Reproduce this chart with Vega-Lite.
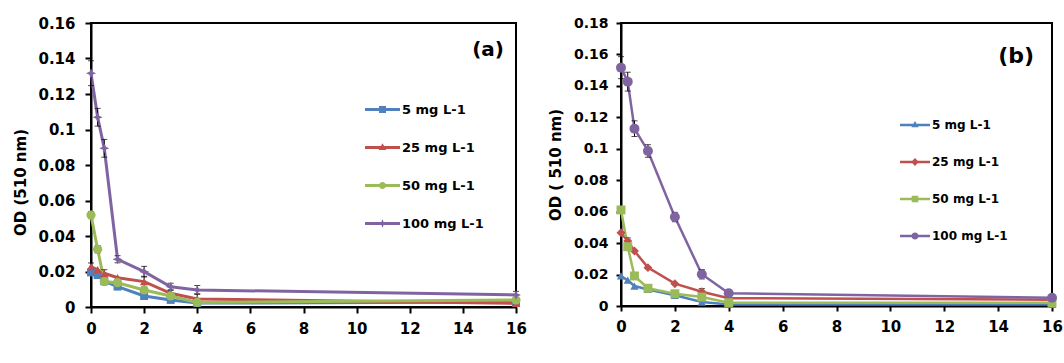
{
  "$schema": "https://vega.github.io/schema/vega-lite/v6.json",
  "padding": {"left": 12, "top": 15, "right": 5, "bottom": 5},
  "bounds": "flush",
  "spacing": 105,
  "data": {"values": [
    {"panel": "a", "conc": "5 mg L-1", "t": 0, "od": 0.0195, "err": 0},
    {"panel": "a", "conc": "5 mg L-1", "t": 0.25, "od": 0.018, "err": 0},
    {"panel": "a", "conc": "5 mg L-1", "t": 0.5, "od": 0.0145, "err": 0},
    {"panel": "a", "conc": "5 mg L-1", "t": 1, "od": 0.0115, "err": 0},
    {"panel": "a", "conc": "5 mg L-1", "t": 2, "od": 0.0062, "err": 0},
    {"panel": "a", "conc": "5 mg L-1", "t": 3, "od": 0.004, "err": 0},
    {"panel": "a", "conc": "5 mg L-1", "t": 4, "od": 0.0022, "err": 0},
    {"panel": "a", "conc": "5 mg L-1", "t": 16, "od": 0.0028, "err": 0},
    {"panel": "a", "conc": "25 mg L-1", "t": 0, "od": 0.0228, "err": 0.002},
    {"panel": "a", "conc": "25 mg L-1", "t": 0.25, "od": 0.021, "err": 0},
    {"panel": "a", "conc": "25 mg L-1", "t": 0.5, "od": 0.019, "err": 0.002},
    {"panel": "a", "conc": "25 mg L-1", "t": 1, "od": 0.0165, "err": 0},
    {"panel": "a", "conc": "25 mg L-1", "t": 2, "od": 0.0143, "err": 0.003},
    {"panel": "a", "conc": "25 mg L-1", "t": 3, "od": 0.0077, "err": 0.002},
    {"panel": "a", "conc": "25 mg L-1", "t": 4, "od": 0.0045, "err": 0.003},
    {"panel": "a", "conc": "25 mg L-1", "t": 16, "od": 0.002, "err": 0},
    {"panel": "a", "conc": "50 mg L-1", "t": 0, "od": 0.0518, "err": 0.002},
    {"panel": "a", "conc": "50 mg L-1", "t": 0.25, "od": 0.0325, "err": 0.002},
    {"panel": "a", "conc": "50 mg L-1", "t": 0.5, "od": 0.0143, "err": 0},
    {"panel": "a", "conc": "50 mg L-1", "t": 1, "od": 0.0137, "err": 0},
    {"panel": "a", "conc": "50 mg L-1", "t": 2, "od": 0.0096, "err": 0},
    {"panel": "a", "conc": "50 mg L-1", "t": 3, "od": 0.0062, "err": 0},
    {"panel": "a", "conc": "50 mg L-1", "t": 4, "od": 0.0026, "err": 0},
    {"panel": "a", "conc": "50 mg L-1", "t": 16, "od": 0.004, "err": 0},
    {"panel": "a", "conc": "100 mg L-1", "t": 0, "od": 0.1317, "err": 0.007},
    {"panel": "a", "conc": "100 mg L-1", "t": 0.25, "od": 0.1069, "err": 0.005},
    {"panel": "a", "conc": "100 mg L-1", "t": 0.5, "od": 0.0894, "err": 0.005},
    {"panel": "a", "conc": "100 mg L-1", "t": 1, "od": 0.0269, "err": 0.002},
    {"panel": "a", "conc": "100 mg L-1", "t": 2, "od": 0.0199, "err": 0.003},
    {"panel": "a", "conc": "100 mg L-1", "t": 3, "od": 0.0114, "err": 0.002},
    {"panel": "a", "conc": "100 mg L-1", "t": 4, "od": 0.0096, "err": 0.0025},
    {"panel": "a", "conc": "100 mg L-1", "t": 16, "od": 0.0068, "err": 0.002},
    {"panel": "b", "conc": "5 mg L-1", "t": 0, "od": 0.0191, "err": 0},
    {"panel": "b", "conc": "5 mg L-1", "t": 0.25, "od": 0.0164, "err": 0},
    {"panel": "b", "conc": "5 mg L-1", "t": 0.5, "od": 0.0127, "err": 0},
    {"panel": "b", "conc": "5 mg L-1", "t": 1, "od": 0.0105, "err": 0},
    {"panel": "b", "conc": "5 mg L-1", "t": 2, "od": 0.0068, "err": 0},
    {"panel": "b", "conc": "5 mg L-1", "t": 3, "od": 0.0025, "err": 0},
    {"panel": "b", "conc": "5 mg L-1", "t": 4, "od": 0.001, "err": 0},
    {"panel": "b", "conc": "5 mg L-1", "t": 16, "od": 0.001, "err": 0},
    {"panel": "b", "conc": "25 mg L-1", "t": 0, "od": 0.0466, "err": 0},
    {"panel": "b", "conc": "25 mg L-1", "t": 0.25, "od": 0.0413, "err": 0.002},
    {"panel": "b", "conc": "25 mg L-1", "t": 0.5, "od": 0.035, "err": 0},
    {"panel": "b", "conc": "25 mg L-1", "t": 1, "od": 0.0244, "err": 0},
    {"panel": "b", "conc": "25 mg L-1", "t": 2, "od": 0.0142, "err": 0},
    {"panel": "b", "conc": "25 mg L-1", "t": 3, "od": 0.0091, "err": 0.002},
    {"panel": "b", "conc": "25 mg L-1", "t": 4, "od": 0.005, "err": 0},
    {"panel": "b", "conc": "25 mg L-1", "t": 16, "od": 0.004, "err": 0},
    {"panel": "b", "conc": "50 mg L-1", "t": 0, "od": 0.0611, "err": 0},
    {"panel": "b", "conc": "50 mg L-1", "t": 0.25, "od": 0.0377, "err": 0},
    {"panel": "b", "conc": "50 mg L-1", "t": 0.5, "od": 0.0191, "err": 0},
    {"panel": "b", "conc": "50 mg L-1", "t": 1, "od": 0.0113, "err": 0},
    {"panel": "b", "conc": "50 mg L-1", "t": 2, "od": 0.0078, "err": 0},
    {"panel": "b", "conc": "50 mg L-1", "t": 3, "od": 0.0057, "err": 0},
    {"panel": "b", "conc": "50 mg L-1", "t": 4, "od": 0.0021, "err": 0},
    {"panel": "b", "conc": "50 mg L-1", "t": 16, "od": 0.002, "err": 0},
    {"panel": "b", "conc": "100 mg L-1", "t": 0, "od": 0.1516, "err": 0.007},
    {"panel": "b", "conc": "100 mg L-1", "t": 0.25, "od": 0.1427, "err": 0.006},
    {"panel": "b", "conc": "100 mg L-1", "t": 0.5, "od": 0.1128, "err": 0.005},
    {"panel": "b", "conc": "100 mg L-1", "t": 1, "od": 0.0986, "err": 0.004},
    {"panel": "b", "conc": "100 mg L-1", "t": 2, "od": 0.0566, "err": 0.003},
    {"panel": "b", "conc": "100 mg L-1", "t": 3, "od": 0.0202, "err": 0.003},
    {"panel": "b", "conc": "100 mg L-1", "t": 4, "od": 0.0081, "err": 0.002},
    {"panel": "b", "conc": "100 mg L-1", "t": 16, "od": 0.0053, "err": 0.002}
  ]},
  "hconcat": [
    {
      "width": 425,
      "height": 284,
      "title": {"text": "(a)", "anchor": "end", "orient": "top", "frame": "group", "offset": 0, "baseline": "alphabetic", "dx": -12, "dy": 60, "fontSize": 20, "font": "DejaVu Sans", "fontWeight": "bold", "color": "black"},
      "transform": [{"filter": "datum.panel === 'a'"}],
      "encoding": {
        "x": {"field": "t", "type": "quantitative", "scale": {"domain": [0, 16], "nice": false},
              "axis": {"values": [0, 2, 4, 6, 8, 10, 12, 14, 16], "title": "Time (hour)", "titleY": 326, "titleBaseline": "top", "labelPadding": 8}},
        "y": {"field": "od", "type": "quantitative", "scale": {"domain": [0, 0.16], "nice": false},
              "axis": {"values": [0, 0.02, 0.04, 0.06, 0.08, 0.1, 0.12, 0.14, 0.16], "format": ".2~f", "title": "OD (510 nm)", "titleX": -63, "titleY": 159, "labelPadding": 10}}
      },
      "layer": [
        {
          "transform": [{"filter": "datum.t < 0"}],
          "mark": {"type": "point", "filled": true, "opacity": 1},
          "encoding": {
            "color": {"field": "conc", "type": "nominal",
              "scale": {"domain": ["5 mg L-1", "25 mg L-1", "50 mg L-1", "100 mg L-1"], "range": ["#4F81BD", "#C0504D", "#9BBB59", "#8064A2"]},
              "legend": {"title": null, "orient": "none", "legendX": 274, "legendY": 69, "direction": "vertical", "symbolSize": 1225, "symbolStrokeWidth": 0, "symbolOpacity": 1, "rowPadding": 13, "labelOffset": 2, "labelFont": "DejaVu Sans", "labelFontWeight": "bold", "labelFontSize": 13, "labelColor": "black", "padding": 0}},
            "shape": {"field": "conc", "type": "nominal",
              "scale": {"domain": ["5 mg L-1", "25 mg L-1", "50 mg L-1", "100 mg L-1"], "range": [
                "M-1,-0.086H1V0.086H-1Z M-0.2,-0.2H0.2V0.2H-0.2Z",
                "M-1,-0.086H1V0.086H-1Z M0,-0.24L0.22,0.14H-0.22Z",
                "M-1,-0.086H1V0.086H-1Z M0.2,0A0.2,0.2 0 1,1 -0.2,0A0.2,0.2 0 1,1 0.2,0Z",
                "M-1,-0.086H1V0.086H-1Z M0,-0.24L0.07,-0.07L0.24,0L0.07,0.07L0,0.24L-0.07,0.07L-0.24,0L-0.07,-0.07Z"]},
              "legend": {"title": null, "orient": "none", "legendX": 274, "legendY": 69, "direction": "vertical", "symbolSize": 1225, "symbolStrokeWidth": 0, "symbolOpacity": 1, "rowPadding": 13, "labelOffset": 2, "labelFont": "DejaVu Sans", "labelFontWeight": "bold", "labelFontSize": 13, "labelColor": "black", "padding": 0}}
          }
        },
        {
          "mark": {"type": "line", "strokeWidth": 3},
          "encoding": {"color": {"field": "conc", "type": "nominal", "legend": null}}
        },
        {
          "transform": [{"filter": "datum.err > 0"}],
          "mark": {"type": "errorbar", "ticks": {"size": 6}, "color": "black", "thickness": 1},
          "encoding": {"yError": {"field": "err"}, "detail": {"field": "conc"}}
        },
        {
          "transform": [{"filter": "datum.conc === '5 mg L-1'"}],
          "mark": {"type": "point", "shape": "square", "filled": true, "opacity": 1, "size": 64},
          "encoding": {"color": {"field": "conc", "type": "nominal", "legend": null}}
        },
        {
          "transform": [{"filter": "datum.conc === '25 mg L-1'"}],
          "mark": {"type": "point", "shape": "triangle-up", "filled": true, "opacity": 1, "size": 70},
          "encoding": {"color": {"field": "conc", "type": "nominal", "legend": null}}
        },
        {
          "transform": [{"filter": "datum.conc === '50 mg L-1'"}],
          "mark": {"type": "point", "shape": "circle", "filled": true, "opacity": 1, "size": 85},
          "encoding": {"color": {"field": "conc", "type": "nominal", "legend": null}}
        },
        {
          "transform": [{"filter": "datum.conc === '100 mg L-1'"}],
          "mark": {"type": "point", "shape": "M0,-1L0.3,-0.3L1,0L0.3,0.3L0,1L-0.3,0.3L-1,0L-0.3,-0.3Z", "filled": true, "opacity": 1, "size": 100},
          "encoding": {"color": {"field": "conc", "type": "nominal", "legend": null}}
        }
      ]
    },
    {
      "width": 431,
      "height": 283,
      "title": {"text": "(b)", "anchor": "end", "orient": "top", "frame": "group", "offset": 0, "baseline": "alphabetic", "dx": -18, "dy": 69, "fontSize": 22, "font": "DejaVu Sans", "fontWeight": "bold", "color": "black"},
      "transform": [{"filter": "datum.panel === 'b'"}],
      "encoding": {
        "x": {"field": "t", "type": "quantitative", "scale": {"domain": [0, 16], "nice": false},
              "axis": {"values": [0, 2, 4, 6, 8, 10, 12, 14, 16], "title": "Time (hour)", "titleY": 328, "titleBaseline": "top", "titleFontSize": 14, "labelPadding": 8, "tickSize": 5}},
        "y": {"field": "od", "type": "quantitative", "scale": {"domain": [0, 0.18], "nice": false},
              "axis": {"values": [0, 0.02, 0.04, 0.06, 0.08, 0.1, 0.12, 0.14, 0.16, 0.18], "format": ".2~f", "title": "OD ( 510 nm)", "titleX": -58, "labelPadding": 8, "tickSize": 5, "labelFontSize": 14}}
      },
      "layer": [
        {
          "transform": [{"filter": "datum.t < 0"}],
          "mark": {"type": "point", "filled": true, "opacity": 1},
          "encoding": {
            "color": {"field": "conc", "type": "nominal",
              "scale": {"domain": ["5 mg L-1", "25 mg L-1", "50 mg L-1", "100 mg L-1"], "range": ["#4F81BD", "#C0504D", "#9BBB59", "#8064A2"]},
              "legend": {"title": null, "orient": "none", "legendX": 279, "legendY": 87, "direction": "vertical", "symbolSize": 900, "symbolStrokeWidth": 0, "symbolOpacity": 1, "rowPadding": 16, "labelOffset": 2, "labelFont": "DejaVu Sans", "labelFontWeight": "bold", "labelFontSize": 12, "labelColor": "black", "padding": 0}},
            "shape": {"field": "conc", "type": "nominal",
              "scale": {"domain": ["5 mg L-1", "25 mg L-1", "50 mg L-1", "100 mg L-1"], "range": [
                "M-1,-0.083H1V0.083H-1Z M0,-0.26L0.24,0.15H-0.24Z",
                "M-1,-0.083H1V0.083H-1Z M0,-0.26L0.26,0L0,0.26L-0.26,0Z",
                "M-1,-0.083H1V0.083H-1Z M-0.22,-0.22H0.22V0.22H-0.22Z",
                "M-1,-0.083H1V0.083H-1Z M0.24,0A0.24,0.24 0 1,1 -0.24,0A0.24,0.24 0 1,1 0.24,0Z"]},
              "legend": {"title": null, "orient": "none", "legendX": 279, "legendY": 87, "direction": "vertical", "symbolSize": 900, "symbolStrokeWidth": 0, "symbolOpacity": 1, "rowPadding": 16, "labelOffset": 2, "labelFont": "DejaVu Sans", "labelFontWeight": "bold", "labelFontSize": 12, "labelColor": "black", "padding": 0}}
          }
        },
        {
          "mark": {"type": "line", "strokeWidth": 2.5},
          "encoding": {"color": {"field": "conc", "type": "nominal", "legend": null}}
        },
        {
          "transform": [{"filter": "datum.err > 0"}],
          "mark": {"type": "errorbar", "ticks": {"size": 6}, "color": "black", "thickness": 1},
          "encoding": {"yError": {"field": "err"}, "detail": {"field": "conc"}}
        },
        {
          "transform": [{"filter": "datum.conc === '5 mg L-1'"}],
          "mark": {"type": "point", "shape": "triangle-up", "filled": true, "opacity": 1, "size": 70},
          "encoding": {"color": {"field": "conc", "type": "nominal", "legend": null}}
        },
        {
          "transform": [{"filter": "datum.conc === '25 mg L-1'"}],
          "mark": {"type": "point", "shape": "diamond", "filled": true, "opacity": 1, "size": 80},
          "encoding": {"color": {"field": "conc", "type": "nominal", "legend": null}}
        },
        {
          "transform": [{"filter": "datum.conc === '50 mg L-1'"}],
          "mark": {"type": "point", "shape": "square", "filled": true, "opacity": 1, "size": 80},
          "encoding": {"color": {"field": "conc", "type": "nominal", "legend": null}}
        },
        {
          "transform": [{"filter": "datum.conc === '100 mg L-1'"}],
          "mark": {"type": "point", "shape": "circle", "filled": true, "opacity": 1, "size": 100},
          "encoding": {"color": {"field": "conc", "type": "nominal", "legend": null}}
        }
      ]
    }
  ],
  "resolve": {
    "scale": {"color": "independent", "shape": "independent", "x": "independent", "y": "independent"},
    "legend": {"color": "independent", "shape": "independent"}
  },
  "config": {
    "font": "DejaVu Sans",
    "view": {"stroke": "black", "strokeWidth": 2},
    "axis": {"grid": false, "domainColor": "black", "domainWidth": 2, "tickColor": "black", "tickWidth": 2, "tickSize": 6, "labelFlush": false, "labelOverlap": false,
      "labelFont": "DejaVu Sans", "labelFontWeight": "bold", "labelFontSize": 15, "labelColor": "black",
      "titleFont": "DejaVu Sans", "titleFontWeight": "bold", "titleFontSize": 15, "titleColor": "black"}
  }
}
